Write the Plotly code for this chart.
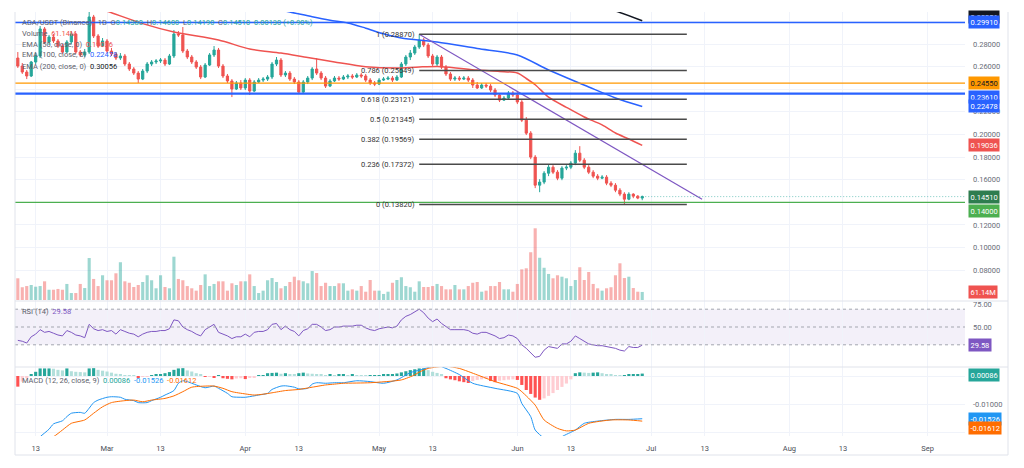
import pandas as pd
import plotly.graph_objects as go

# ---------------- data ----------------
FIRST_DAY = "2023-02-09"
N_DAYS = 141

open_ = [0.2676,0.2605,0.2552,0.2517,0.2641,0.2694,0.2933,0.2818,0.2862,0.2827,
         0.2782,0.2729,0.2818,0.2888,0.2729,0.2703,0.2729,0.3039,0.2871,0.2782,
         0.2827,0.2738,0.2712,0.2676,0.2694,0.2623,0.2579,0.2543,0.2490,0.2561,
         0.2623,0.2641,0.2650,0.2658,0.2623,0.2694,0.2888,0.2880,0.2738,0.2685,
         0.2641,0.2596,0.2508,0.2614,0.2703,0.2747,0.2605,0.2517,0.2473,0.2402,
         0.2455,0.2411,0.2481,0.2384,0.2464,0.2481,0.2490,0.2508,0.2623,0.2658,
         0.2526,0.2543,0.2490,0.2464,0.2375,0.2464,0.2499,0.2579,0.2543,0.2499,
         0.2428,0.2473,0.2499,0.2490,0.2508,0.2517,0.2508,0.2526,0.2517,0.2481,
         0.2455,0.2446,0.2481,0.2490,0.2499,0.2481,0.2508,0.2623,0.2685,0.2720,
         0.2773,0.2835,0.2791,0.2694,0.2623,0.2685,0.2596,0.2535,0.2490,0.2499,
         0.2490,0.2499,0.2481,0.2437,0.2411,0.2437,0.2428,0.2393,0.2349,0.2304,
         0.2322,0.2366,0.2349,0.2287,0.2127,0.2012,0.1800,0.1552,0.1579,0.1658,
         0.1711,0.1667,0.1614,0.1703,0.1711,0.1747,0.1835,0.1773,0.1711,0.1667,
         0.1632,0.1614,0.1623,0.1570,0.1552,0.1508,0.1473,0.1428,0.1473,0.1455,
         0.1438]
high_ = [0.2729,0.2632,0.2570,0.2650,0.2720,0.2959,0.2950,0.2880,0.2888,0.2844,
         0.2800,0.2835,0.2915,0.2897,0.2747,0.2756,0.3083,0.3057,0.2888,0.2853,
         0.2844,0.2765,0.2729,0.2720,0.2712,0.2641,0.2596,0.2561,0.2579,0.2641,
         0.2658,0.2667,0.2676,0.2676,0.2712,0.2924,0.2915,0.2950,0.2756,0.2703,
         0.2658,0.2614,0.2632,0.2720,0.2782,0.2765,0.2623,0.2535,0.2490,0.2473,
         0.2481,0.2499,0.2499,0.2481,0.2499,0.2508,0.2526,0.2641,0.2685,0.2676,
         0.2561,0.2561,0.2508,0.2481,0.2481,0.2517,0.2596,0.2676,0.2561,0.2517,
         0.2490,0.2517,0.2517,0.2526,0.2535,0.2535,0.2543,0.2543,0.2535,0.2499,
         0.2473,0.2499,0.2508,0.2517,0.2517,0.2526,0.2641,0.2703,0.2747,0.2791,
         0.2887,0.2853,0.2809,0.2712,0.2703,0.2703,0.2614,0.2552,0.2517,0.2517,
         0.2517,0.2517,0.2499,0.2464,0.2455,0.2455,0.2446,0.2411,0.2366,0.2340,
         0.2384,0.2384,0.2375,0.2304,0.2154,0.2030,0.1818,0.1605,0.1676,0.1738,
         0.1729,0.1685,0.1720,0.1729,0.1765,0.1862,0.1897,0.1791,0.1729,0.1685,
         0.1650,0.1641,0.1641,0.1588,0.1570,0.1526,0.1490,0.1490,0.1481,0.1464,
         0.1460]
low_ = [0.2588,0.2535,0.2490,0.2508,0.2623,0.2676,0.2800,0.2791,0.2809,0.2765,
        0.2712,0.2720,0.2800,0.2712,0.2685,0.2685,0.2712,0.2853,0.2765,0.2773,
        0.2720,0.2694,0.2658,0.2658,0.2605,0.2561,0.2526,0.2455,0.2481,0.2543,
        0.2605,0.2623,0.2632,0.2605,0.2614,0.2676,0.2862,0.2720,0.2667,0.2623,
        0.2579,0.2490,0.2499,0.2605,0.2685,0.2588,0.2499,0.2455,0.2331,0.2393,
        0.2393,0.2393,0.2349,0.2375,0.2455,0.2464,0.2473,0.2490,0.2605,0.2508,
        0.2508,0.2473,0.2446,0.2358,0.2366,0.2446,0.2481,0.2526,0.2481,0.2411,
        0.2419,0.2464,0.2473,0.2481,0.2490,0.2490,0.2499,0.2499,0.2464,0.2437,
        0.2428,0.2437,0.2473,0.2481,0.2464,0.2473,0.2499,0.2605,0.2658,0.2703,
        0.2756,0.2773,0.2676,0.2605,0.2605,0.2579,0.2517,0.2473,0.2473,0.2473,
        0.2481,0.2464,0.2411,0.2402,0.2402,0.2411,0.2375,0.2331,0.2287,0.2296,
        0.2313,0.2331,0.2269,0.2110,0.1995,0.1782,0.1526,0.1490,0.1561,0.1632,
        0.1650,0.1596,0.1596,0.1685,0.1694,0.1729,0.1756,0.1694,0.1650,0.1614,
        0.1596,0.1605,0.1552,0.1535,0.1490,0.1455,0.1382,0.1419,0.1437,0.1428,
        0.1419]
close_ = [0.2605,0.2552,0.2517,0.2641,0.2694,0.2933,0.2818,0.2862,0.2827,0.2782,
          0.2729,0.2818,0.2888,0.2729,0.2703,0.2729,0.3039,0.2871,0.2782,0.2827,
          0.2738,0.2712,0.2676,0.2694,0.2623,0.2579,0.2543,0.2490,0.2561,0.2623,
          0.2641,0.2650,0.2658,0.2623,0.2694,0.2888,0.2880,0.2738,0.2685,0.2641,
          0.2596,0.2508,0.2614,0.2703,0.2747,0.2605,0.2517,0.2473,0.2402,0.2455,
          0.2411,0.2481,0.2384,0.2464,0.2481,0.2490,0.2508,0.2623,0.2658,0.2526,
          0.2543,0.2490,0.2464,0.2375,0.2464,0.2499,0.2579,0.2543,0.2499,0.2428,
          0.2473,0.2499,0.2490,0.2508,0.2517,0.2508,0.2526,0.2517,0.2481,0.2455,
          0.2446,0.2481,0.2490,0.2499,0.2481,0.2508,0.2623,0.2685,0.2720,0.2773,
          0.2835,0.2791,0.2694,0.2623,0.2685,0.2596,0.2535,0.2490,0.2499,0.2490,
          0.2499,0.2481,0.2437,0.2411,0.2437,0.2428,0.2393,0.2349,0.2304,0.2322,
          0.2366,0.2349,0.2287,0.2127,0.2012,0.1800,0.1552,0.1579,0.1658,0.1711,
          0.1667,0.1614,0.1703,0.1711,0.1747,0.1835,0.1773,0.1711,0.1667,0.1632,
          0.1614,0.1623,0.1570,0.1552,0.1508,0.1473,0.1428,0.1473,0.1455,0.1438,
          0.1451]
volume_m = [165,97,106,114,101,106,142,78,78,84,
            78,122,53,53,122,91,319,160,106,188,
            150,150,203,287,142,131,99,114,137,188,
            150,89,188,99,89,329,160,150,106,89,
            71,114,195,106,122,142,142,71,127,114,
            142,142,195,106,53,71,150,167,137,89,
            106,137,177,150,142,127,220,205,106,131,
            106,106,127,127,71,81,71,106,63,152,
            71,71,46,63,131,152,173,106,97,63,
            142,99,99,106,122,106,81,81,114,81,
            81,106,131,137,63,71,106,106,137,81,
            81,63,122,233,241,363,545,321,245,198,
            165,188,177,165,106,152,249,152,213,122,
            89,71,89,97,188,279,167,177,91,63,
            61.14]
rsi = [35,34,32,39,42,47,44,45,43,41,
       40,46,44,41,40,38,53,48,46,47,
       45,46,42,47,45,43,42,39,42,44,
       45,45,46,46,48,58,57,50,47,45,
       42,40,47,50,53,44,42,40,37,39,
       39,42,39,44,45,45,47,53,54,47,
       51,47,45,40,46,48,53,53,50,46,
       47,50,50,51,51,51,52,52,49,47,
       46,48,49,50,49,51,58,62,64,67,
       70,66,60,56,59,54,50,47,47,47,
       47,46,43,42,44,44,42,40,37,38,
       41,40,37,30,26,21,16,17,24,28,
       27,26,31,31,34,40,37,34,31,30,
       29,29,28,27,26,24,23,28,27,27,
       29.58]
macd_hist = [-0.0038,-0.0020,-0.0008,0.0005,0.0015,0.0027,0.0027,0.0027,0.0026,0.0022,
             0.0020,0.0027,0.0017,0.0015,0.0014,0.0013,0.0027,0.0028,0.0022,0.0019,
             0.0016,0.0012,0.0008,0.0004,0.0003,0.0002,0.0001,-0.0005,-0.0003,-0.0001,
             0.0002,0.0005,0.0007,0.0010,0.0014,0.0022,0.0027,0.0028,0.0020,0.0016,
             0.0010,0.0004,-0.0002,-0.0001,-0.0004,0.0003,-0.0008,-0.0010,-0.0012,-0.0009,
             -0.0008,-0.0011,-0.0007,-0.0005,0.0002,0.0003,0.0010,0.0011,0.0012,0.0008,
             0.0010,0.0007,0.0005,0.0010,0.0012,0.0009,0.0008,0.0006,0.0005,0.0003,
             0.0004,0.0003,0.0004,0.0004,0.0003,0.0004,0.0003,0.0002,0.0001,0.0001,
             0.0002,0.0003,0.0004,0.0005,0.0006,0.0009,0.0013,0.0017,0.0021,0.0024,
             0.0027,0.0027,0.0021,0.0015,0.0011,0.0004,-0.0008,-0.0012,-0.0015,-0.0019,
             -0.0022,-0.0025,-0.0018,-0.0014,-0.0012,-0.0010,-0.0018,-0.0022,-0.0017,-0.0015,
             -0.0013,-0.0012,-0.0014,-0.0032,-0.0050,-0.0064,-0.0077,-0.0085,-0.0080,-0.0071,
             -0.0061,-0.0050,-0.0039,-0.0027,-0.0012,0.0010,0.0013,0.0012,0.0011,0.0012,
             0.0013,0.0010,0.0007,0.0004,0.0003,0.0002,0.0003,0.0004,0.0005,0.0007,
             0.00086]
macd_idx = [0,3,5,7,8,10,11,12,14,15,16,17,18,20,21,23,24,26,27,29,30,32,33,35,36,37,38,
            40,42,44,45,47,48,50,51,53,54,56,57,59,60,62,63,65,66,67,69,71,73,76,79,82,85,
            88,90,92,94,96,99,102,107,112,113,115,116,118,120,122,125,127,130,134,137,140]
macd_val = [-0.0300,-0.0250,-0.0217,-0.0190,-0.0171,-0.0160,-0.0145,-0.0133,-0.0130,-0.0133,
            -0.0115,-0.0095,-0.0086,-0.0076,-0.0074,-0.0076,-0.0083,-0.0088,-0.0095,-0.0095,
            -0.0088,-0.0076,-0.0068,-0.0052,-0.0026,-0.0017,-0.0020,-0.0032,-0.0042,-0.0036,
            -0.0044,-0.0062,-0.0074,-0.0076,-0.0076,-0.0071,-0.0068,-0.0062,-0.0048,-0.0036,
            -0.0035,-0.0040,-0.0046,-0.0044,-0.0029,-0.0024,-0.0026,-0.0024,-0.0024,-0.0017,
            -0.0020,-0.0026,-0.0014,0.0012,0.0021,0.0030,0.0038,0.0027,0.0005,-0.0026,
            -0.0044,-0.0062,-0.0098,-0.0145,-0.0193,-0.0223,-0.0248,-0.0217,-0.0193,-0.0169,
            -0.0161,-0.0155,-0.0155,-0.01526]
signal_idx = [0,5,8,10,12,15,17,19,21,24,26,28,30,33,35,37,39,42,44,46,48,51,53,55,57,60,63,
              66,69,71,73,79,86,89,90,92,96,99,103,107,112,113,116,118,121,123,125,128,133,137,140]
signal_val = [-0.0270,-0.0240,-0.0217,-0.0193,-0.0169,-0.0157,-0.0133,-0.0110,-0.0095,-0.0088,
              -0.0086,-0.0092,-0.0086,-0.0080,-0.0071,-0.0056,-0.0040,-0.0036,-0.0036,-0.0044,
              -0.0056,-0.0064,-0.0068,-0.0065,-0.0060,-0.0052,-0.0048,-0.0040,-0.0032,-0.0029,
              -0.0026,-0.0024,-0.0014,0.0004,0.0014,0.0027,0.0035,0.0027,0.0004,-0.0020,
              -0.0044,-0.0056,-0.0104,-0.0157,-0.0187,-0.0196,-0.0193,-0.0169,-0.0157,-0.0157,
              -0.01612]
ema50_idx = [0,10,20,28,35,45,52,59,65,71,78,85,90,95,103,108,112,114,116,119,123,127,131,134,137,140]
ema50_val = [0.333,0.322,0.309,0.298,0.2906,0.2835,0.2756,0.2720,0.2680,0.2641,0.2600,0.2588,
             0.2597,0.2600,0.2570,0.2558,0.2543,0.2495,0.2440,0.2330,0.2240,0.2155,0.2085,
             0.2013,0.1960,0.19036]
ema100_idx = [0,40,55,61,66,70,74,78,82,86,94,103,112,119,128,134,140]
ema100_val = [0.345,0.325,0.313,0.3083,0.3040,0.3010,0.2986,0.2940,0.2890,0.2853,0.2818,
              0.2760,0.2703,0.2570,0.2420,0.2323,0.22478]
ema200_idx = [100,115,125,130,135,140]
ema200_val = [0.345,0.332,0.320,0.3145,0.3078,0.30056]

fib_high = 0.2887
fib_low = 0.1382
fib_ratios = [1, 0.786, 0.618, 0.5, 0.382, 0.236, 0]
fib_start = "2023-05-10"
fib_end = "2023-07-09"
trend_x = ["2023-05-10", "2023-07-12 10:00"]
trend_y = [0.2887, 0.1427]
level_vals = [0.2991, 0.2455, 0.2361, 0.1400]
level_cols = ["#2962ff", "#ff9800", "#2962ff", "#4caf50"]
level_wids = [1.5, 1.2, 2.2, 1.2]
last_price = 0.1451

time_ticks = ["2023-02-13", "2023-03-01", "2023-03-13", "2023-04-01", "2023-04-13", "2023-05-01",
              "2023-05-13", "2023-06-01", "2023-06-13", "2023-07-01", "2023-07-13", "2023-08-01",
              "2023-08-13", "2023-09-01"]
time_labels = ["13", "Mar", "13", "Apr", "13", "May", "13", "Jun", "13", "Jul", "13", "Aug", "13", "Sep"]
price_ticks = [0.08, 0.10, 0.12, 0.14, 0.16, 0.18, 0.20, 0.22, 0.24, 0.26, 0.28, 0.30]
price_hidden = [0.14, 0.24, 0.30]          # covered by value labels in the reference
rsi_ticks = [25, 50, 75]
rsi_hidden = [25, 75]
rsi_top_label = 75
macd_ticks = [-0.02, -0.01, 0.0]
macd_hidden = [-0.02, 0.0]

# ---------------- styling ----------------
UP = "#26a69a"
DN = "#ef5350"
FONT = "Roboto"
FS = 7.5
AX = "#6a6d78"
GRID = "#f0f3fa"
BORDER = "#e0e3eb"

W, H = 1024, 468
ML, MR, MT, MB = 15, 59, 12, 32
PW = W - ML - MR
PH = H - MT - MB


def py(px):
    return (H - MB - px) / PH


def pxp(px):
    return (px - ML) / PW


def tick_text(vals, hidden, fmt):
    return ["" if v in hidden else fmt.format(v) for v in vals]


dates = pd.date_range(FIRST_DAY, periods=N_DAYS, freq="D")
up = [c >= o for o, c in zip(open_, close_)]
vol_cols = ["rgba(38,166,154,0.45)" if u else "rgba(239,83,80,0.45)" for u in up]
hist_cols = []
prev = 0.0
for h in macd_hist:
    if h >= 0:
        hist_cols.append("#26a69a" if h >= prev else "#b2dfdb")
    else:
        hist_cols.append("#ff5252" if h <= prev else "#ffcdd2")
    prev = h

X_RANGE = ["2023-02-08 08:50", "2023-09-09 08:50"]

fig = go.Figure()
fig.add_trace(go.Bar(x=dates, y=volume_m, marker=dict(color=vol_cols, line=dict(width=0)),
                     xaxis="x", yaxis="y"))
fig.add_trace(go.Candlestick(x=dates, open=open_, high=high_, low=low_, close=close_,
                             increasing=dict(line=dict(color=UP, width=1), fillcolor=UP),
                             decreasing=dict(line=dict(color=DN, width=1), fillcolor=DN),
                             whiskerwidth=0, xaxis="x", yaxis="y2"))
fig.add_trace(go.Scatter(x=[dates[i] for i in ema50_idx], y=ema50_val, mode="lines",
                         line=dict(color="#ef5350", width=1.5, shape="spline", smoothing=0.8),
                         xaxis="x", yaxis="y2"))
fig.add_trace(go.Scatter(x=[dates[i] for i in ema100_idx], y=ema100_val, mode="lines",
                         line=dict(color="#2962ff", width=1.5, shape="spline", smoothing=0.8),
                         xaxis="x", yaxis="y2"))
fig.add_trace(go.Scatter(x=[dates[i] for i in ema200_idx], y=ema200_val, mode="lines",
                         line=dict(color="#131722", width=1.5, shape="spline", smoothing=0.8),
                         xaxis="x", yaxis="y2"))
fig.add_trace(go.Scatter(x=trend_x, y=trend_y, mode="lines",
                         line=dict(color="#7e57c2", width=1.2), xaxis="x", yaxis="y2"))
fig.add_trace(go.Scatter(x=dates, y=rsi, mode="lines", line=dict(color="#7e57c2", width=1),
                         xaxis="x2", yaxis="y3"))
fig.add_trace(go.Bar(x=dates, y=macd_hist, marker=dict(color=hist_cols, line=dict(width=0)),
                     xaxis="x3", yaxis="y4"))
fig.add_trace(go.Scatter(x=[dates[i] for i in macd_idx], y=macd_val, mode="lines",
                         line=dict(color="#2196f3", width=1, shape="spline", smoothing=0.6),
                         xaxis="x3", yaxis="y4"))
fig.add_trace(go.Scatter(x=[dates[i] for i in signal_idx], y=signal_val, mode="lines",
                         line=dict(color="#ff6d00", width=1, shape="spline", smoothing=0.6),
                         xaxis="x3", yaxis="y4"))

shapes = []
# RSI band
shapes.append(dict(type="rect", xref="paper", x0=0, x1=1, yref="y3", y0=30, y1=70,
                   fillcolor="rgba(126,87,194,0.09)", line=dict(width=0), layer="below"))
for v in (70, 50, 30):
    shapes.append(dict(type="line", xref="paper", x0=0, x1=1, yref="y3", y0=v, y1=v,
                       line=dict(color="#a3a6af", width=1, dash="3px,3px")))
# horizontal levels
for v, c, w in zip(level_vals, level_cols, level_wids):
    shapes.append(dict(type="line", xref="paper", x0=0, x1=1, yref="y2", y0=v, y1=v,
                       line=dict(color=c, width=w)))
# last price dotted
shapes.append(dict(type="line", xref="x", x0=dates[-1], x1=X_RANGE[1], yref="y2",
                   y0=last_price, y1=last_price,
                   line=dict(color="rgba(38,166,154,0.6)", width=1, dash="1px,2px")))
# fib lines
fib_levels = [fib_low + r * (fib_high - fib_low) for r in fib_ratios]
for lv in fib_levels:
    shapes.append(dict(type="line", xref="x", x0=fib_start, x1=fib_end, yref="y2", y0=lv, y1=lv,
                       line=dict(color="#4a4a4a", width=1.5)))
# pane separators & borders
for ypx in (301, 367):
    shapes.append(dict(type="line", xref="paper", x0=0, x1=pxp(1008), yref="paper",
                       y0=py(ypx), y1=py(ypx), line=dict(color=BORDER, width=1)))
shapes.append(dict(type="line", xref="paper", x0=0, x1=0, yref="paper", y0=py(455), y1=1,
                   line=dict(color=BORDER, width=1)))
shapes.append(dict(type="line", xref="paper", x0=pxp(1008), x1=pxp(1008), yref="paper",
                   y0=py(455), y1=1, line=dict(color=BORDER, width=1)))
shapes.append(dict(type="line", xref="paper", x0=0, x1=pxp(1008), yref="paper",
                   y0=py(455), y1=py(455), line=dict(color=BORDER, width=1)))

annotations = []
# fib labels
for r, lv in zip(fib_ratios, fib_levels):
    annotations.append(dict(xref="x", x=fib_start, yref="y2", y=lv, xanchor="right", xshift=-2,
                            yanchor="middle", showarrow=False, text=f"{r:g} ({lv:.5f})",
                            font=dict(family=FONT, size=FS, color="#333333")))
# RSI top scale label (drawn as text so it is not dropped at the pane edge)
annotations.append(dict(xref="paper", x=1, xanchor="left", xshift=6, yref="y3", y=rsi_top_label,
                        yanchor="middle", showarrow=False, text=f"{rsi_top_label:.2f}",
                        font=dict(family=FONT, size=FS, color=AX)))
# right-side value labels (later ones are drawn on top)
labels = [
    ("y2", 0.30056, "0.30056", "#131722", "white", 4),
    ("y2", 0.2991, "0.29910", "#2962ff", "white", 0),
    ("y2", 0.2455, "0.24550", "#ff9800", "#131722", 0),
    ("y2", 0.2361, "0.23610", "#2962ff", "white", -3),
    ("y2", 0.22478, "0.22478", "#2962ff", "white", 0),
    ("y2", 0.19036, "0.19036", "#ef5350", "white", 0),
    ("y2", 0.1451, "0.14510", "#2e7d4f", "white", 0),
    ("y2", 0.1400, "0.14000", "#4caf50", "white", -9),
    ("y", 61.14, "61.14M", "#ef5350", "white", 0),
    ("y3", 29.58, "29.58", "#7e57c2", "white", 0),
    ("y4", 0.00086, "0.00086", "#26a69a", "white", -1),
    ("y4", -0.01526, "-0.01526", "#2196f3", "white", 0),
    ("y4", -0.01612, "-0.01612", "#ff6d00", "white", -7),
]
for yref, yv, t, bg, fc, ys in labels:
    annotations.append(dict(xref="paper", x=1, xanchor="left", xshift=3, yref=yref, y=yv,
                            yanchor="middle", yshift=ys, showarrow=False, text=t, bgcolor=bg,
                            borderpad=1.5, font=dict(family=FONT, size=FS, color=fc)))

# legends (top-left)
G = "#26a69a"
legend_lines = [
    (22.7, "ADA/USDT (Binance) · 1D&nbsp;&nbsp;"
           f"O<span style='color:{G}'>0.14380</span>&nbsp;&nbsp;H<span style='color:{G}'>0.14600</span>"
           f"&nbsp;&nbsp;L<span style='color:{G}'>0.14190</span>&nbsp;&nbsp;C<span style='color:{G}'>0.14510</span>"
           f"&nbsp;&nbsp;<span style='color:{G}'>0.00130 (+0.90%)</span>"),
    (33.3, "Volume&nbsp;&nbsp;<span style='color:#ef5350'>61.14M</span>"),
    (44.3, "EMA (50, close, 0)&nbsp;&nbsp;<span style='color:#ef5350'>0.19036</span>"),
    (55.0, "EMA (100, close, 0)&nbsp;&nbsp;<span style='color:#2962ff'>0.22478</span>"),
    (66.0, "EMA (200, close, 0)&nbsp;&nbsp;<span style='color:#131722'>0.30056</span>"),
    (311.0, "RSI (14)&nbsp;&nbsp;<span style='color:#7e57c2'>29.58</span>"),
    (380.0, "MACD (12, 26, close, 9)&nbsp;&nbsp;<span style='color:#26a69a'>0.00086</span>"
            "&nbsp;&nbsp;<span style='color:#2196f3'>-0.01526</span>"
            "&nbsp;&nbsp;<span style='color:#ff6d00'>-0.01612</span>"),
]
for ypx, t in legend_lines:
    annotations.append(dict(xref="paper", x=pxp(20), xanchor="left", yref="paper", y=py(ypx),
                            yanchor="middle", showarrow=False, text=t,
                            font=dict(family=FONT, size=FS, color="#5d606b")))

xcommon = dict(range=X_RANGE, type="date", tickvals=time_ticks, ticktext=time_labels,
               showgrid=True, gridcolor=GRID, gridwidth=1, zeroline=False, showline=False,
               ticks="", fixedrange=True)
fig.update_layout(
    width=W, height=H, margin=dict(l=ML, r=MR, t=MT, b=MB),
    paper_bgcolor="white", plot_bgcolor="white", showlegend=False, hovermode=False,
    bargap=0.3, font=dict(family=FONT, size=FS, color=AX),
    xaxis=dict(domain=[0, 1], anchor="y", showticklabels=False,
               rangeslider=dict(visible=False), **xcommon),
    xaxis2=dict(domain=[0, 1], anchor="y3", showticklabels=False, **xcommon),
    xaxis3=dict(domain=[0, 1], anchor="y4", showticklabels=True, ticklabelstandoff=6,
                tickfont=dict(family=FONT, size=FS, color="#4a4d57"), **xcommon),
    yaxis=dict(domain=[py(301), 1], anchor="x", range=[-7.6, 2188.8], visible=False,
               showgrid=False, fixedrange=True),
    yaxis2=dict(overlaying="y", anchor="x", side="right", range=[0.05281, 0.30829],
                tickvals=price_ticks, ticktext=tick_text(price_ticks, price_hidden, "{:.5f}"),
                showgrid=True, gridcolor=GRID, zeroline=False, ticks="", ticklabelstandoff=7,
                tickfont=dict(family=FONT, size=FS, color=AX), fixedrange=True),
    yaxis3=dict(domain=[py(367), py(301)], anchor="x2", side="right", range=[5.06, 79.21],
                tickvals=rsi_ticks, ticktext=tick_text(rsi_ticks, rsi_hidden, "{:.2f}"),
                showgrid=False, zeroline=False, ticks="", ticklabelstandoff=7,
                tickfont=dict(family=FONT, size=FS, color=AX), fixedrange=True),
    yaxis4=dict(domain=[0, py(367)], anchor="x3", side="right", range=[-0.021429, 0.003214],
                tickvals=macd_ticks, ticktext=tick_text(macd_ticks, macd_hidden, "{:.5f}"),
                showgrid=True, gridcolor=GRID, zeroline=False, ticks="", ticklabelstandoff=7,
                tickfont=dict(family=FONT, size=FS, color=AX), fixedrange=True),
    shapes=shapes, annotations=annotations,
)

fig.write_html("out.html")
